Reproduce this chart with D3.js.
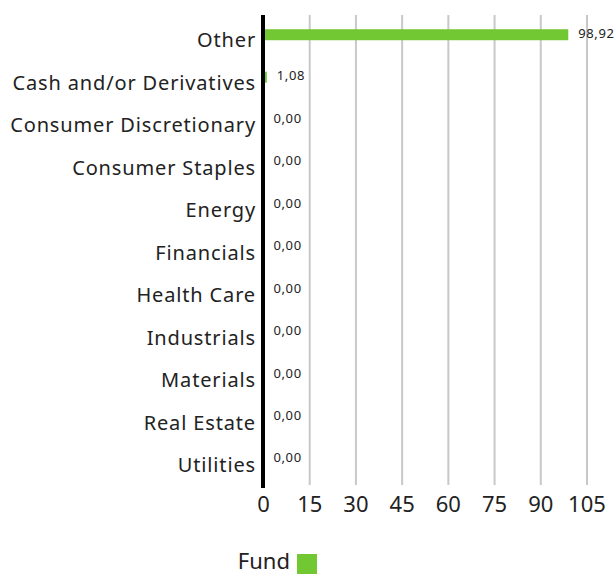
<!DOCTYPE html>
<html>
  <head>
    <meta charset='utf-8'>
    <title></title>
    <script src='https://d3js.org/d3.v7.min.js'></script>
    <style>
      body {
        margin: 0;
        background: #fff;
      }
      svg {
        display: block;
        font-family: 'Noto Sans', sans-serif;
      }
      .cat-label {
        font-size: 20px;
        letter-spacing: 0.85px;
        fill: #222;
      }
      .val-label {
        font-size: 13px;
        letter-spacing: 0.6px;
        fill: #222;
      }
      .tick-label {
        font-size: 22px;
        fill: #222;
      }
      .grid {
        stroke: #c8c8c8;
        stroke-width: 2px;
      }
    </style>
  </head>
  <body>
  <script type='text/javascript'>

    var categories = ['Other', 'Cash and/or Derivatives', 'Consumer Discretionary', 'Consumer Staples',
      'Energy', 'Financials', 'Health Care', 'Industrials', 'Materials', 'Real Estate', 'Utilities'];
    var fundValues = [98.92, 1.08, 0, 0, 0, 0, 0, 0, 0, 0, 0];
    var xTicks = [0, 15, 30, 45, 60, 75, 90, 105];
    var seriesName = 'Fund';

    var width = 616;
    var height = 576;
    var green = '#72c833';

    var x = d3.scaleLinear()
              .domain([0, 105])
              .range([263.5, 587]);

    var y = d3.scaleBand()
              .domain(categories)
              .range([19, 486]);

    var svg = d3.select('body')
              .append('svg')
              .attr('width', width)
              .attr('height', height);

    // vertical gridlines
    svg.selectAll('.grid')
      .data(xTicks.filter(function(t) { return t > 0; }))
      .enter().append('line')
      .attr('class', 'grid')
      .attr('x1', function(d) { return x(d); })
      .attr('x2', function(d) { return x(d); })
      .attr('y1', 15)
      .attr('y2', 485);

    var data = categories.map(function(c, i) {
      return { name: c, value: fundValues[i] };
    });

    // bars
    svg.selectAll('.bar')
      .data(data)
      .enter().append('rect')
      .attr('class', 'bar')
      .attr('x', x(0))
      .attr('y', function(d) { return y(d.name) + y.bandwidth() / 2 - 11; })
      .attr('width', function(d) { return x(d.value) - x(0); })
      .attr('height', 11)
      .style('fill', green);

    // zero axis line
    svg.append('line')
      .attr('x1', 263)
      .attr('x2', 263)
      .attr('y1', 15)
      .attr('y2', 488)
      .style('stroke', '#000')
      .style('stroke-width', 4);

    // category labels
    svg.selectAll('.cat-label')
      .data(categories)
      .enter().append('text')
      .attr('class', 'cat-label')
      .attr('x', 256)
      .attr('y', function(d) { return y(d) + y.bandwidth() / 2; })
      .attr('dy', '0.36em')
      .attr('text-anchor', 'end')
      .text(function(d) { return d; });

    // value labels
    svg.selectAll('.val-label')
      .data(data)
      .enter().append('text')
      .attr('class', 'val-label')
      .attr('x', function(d) { return x(d.value) + 10; })
      .attr('y', function(d) { return y(d.name) + y.bandwidth() / 2 - 7; })
      .attr('dy', '0.36em')
      .text(function(d) { return d.value.toFixed(2).replace('.', ','); });

    // x tick labels
    svg.selectAll('.tick-label')
      .data(xTicks)
      .enter().append('text')
      .attr('class', 'tick-label')
      .attr('x', function(d) { return x(d); })
      .attr('y', 504)
      .attr('dy', '0.36em')
      .attr('text-anchor', 'middle')
      .text(function(d) { return d; });

    // legend
    var legend = svg.append('g');
    legend.append('text')
      .attr('class', 'tick-label')
      .attr('x', 290)
      .attr('y', 569)
      .attr('text-anchor', 'end')
      .text(seriesName);
    legend.append('rect')
      .attr('x', 297)
      .attr('y', 554)
      .attr('width', 20)
      .attr('height', 20)
      .style('fill', green);

  </script>
  </body>
</html>
